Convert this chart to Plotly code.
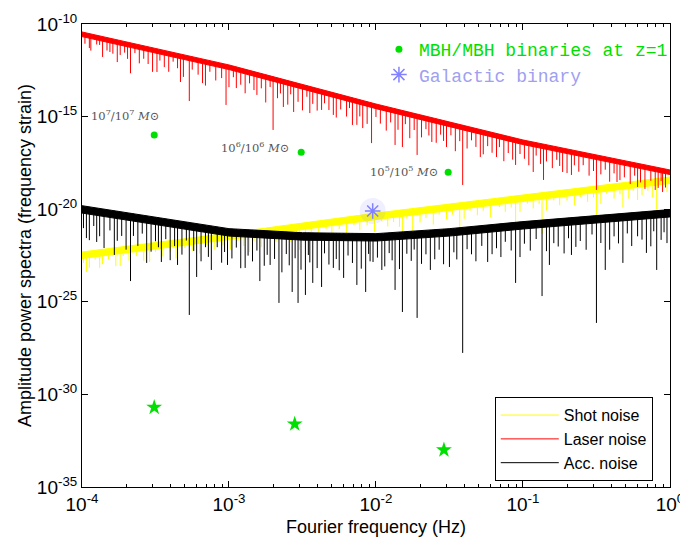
import numpy as np
import plotly.graph_objects as go

# ---------------- data ----------------
# noise band envelopes: log10(frequency / Hz) and log10(amplitude) of band top / bottom
env_logf = [-4, -3, -2, -1, 0]
laser_top_exp = [-10.43, -12.21, -14.32, -16.26, -17.88]
laser_bot_exp = [-10.68, -12.46, -14.57, -16.51, -18.13]
shot_top_exp = [-22.31, -21.29, -20.21, -19.23, -18.26]
shot_bot_exp = [-22.66, -21.64, -20.56, -19.58, -18.61]
acc_env_logf = [-4, -3, -2.5, -2, -1.5, -1, 0]
acc_top_exp = [-19.81, -21.05, -21.27, -21.32, -21.05, -20.67, -20.02]
acc_bot_exp = [-20.21, -21.45, -21.67, -21.72, -21.45, -21.07, -20.42]

# deep downward spikes: log10(frequency) and log10(amplitude reached)
laser_spike_logf = [-3.95, -3.88, -3.81, -3.74, -3.67, -3.55, -3.49, -3.33, -3.27, -3.18,
                    -3.02, -2.95, -2.81, -2.70, -2.63, -2.56, -2.45, -2.37, -2.29, -2.16,
                    -2.09, -2.03, -1.87, -1.82, -1.72, -1.62, -1.52, -1.41, -1.29, -1.18,
                    -1.05, -0.93, -0.86, -0.73, -0.67, -0.50, -0.36, -0.22, -0.10, -0.05]
laser_spike_exp = [-11.30, -11.13, -11.51, -11.67, -12.66, -12.16, -12.59, -13.13, -14.16, -13.19,
                   -14.37, -13.46, -13.83, -15.72, -14.48, -14.75, -14.81, -14.64, -14.91, -15.45,
                   -15.62, -16.43, -16.53, -16.64, -17.07, -16.37, -16.64, -18.69, -17.18, -17.18,
                   -17.61, -17.99, -18.42, -17.99, -18.15, -18.96, -18.53, -18.80, -18.96, -19.07]
shot_spike_logf = [-3.97, -3.88, -3.74, -3.54, -2.86, -2.52, -1.82, -1.75, -1.43, -1.05,
                   -0.87, -0.50, -0.32, -0.22, -0.09]
shot_spike_exp = [-23.39, -23.17, -23.07, -22.85, -22.31, -22.20, -21.50, -21.55, -21.30, -20.85,
                  -21.30, -20.58, -19.90, -19.50, -20.00]
acc_spike_logf = [-3.97, -3.90, -3.78, -3.67, -3.56, -3.46, -3.35, -3.27, -3.22, -3.12,
                  -3.01, -2.89, -2.79, -2.72, -2.66, -2.57, -2.53, -2.48, -2.43, -2.37,
                  -2.29, -2.22, -2.13, -2.07, -2.02, -1.96, -1.87, -1.82, -1.72, -1.63,
                  -1.50, -1.41, -1.24, -1.05, -0.87, -0.82, -0.67, -0.50, -0.44, -0.32,
                  -0.16, -0.09, -0.02]
acc_spike_exp = [-21.56, -21.77, -22.47, -23.88, -22.90, -22.85, -23.01, -25.71, -23.66, -23.28,
                 -23.01, -23.17, -23.88, -23.01, -25.06, -24.47, -25.06, -24.63, -23.98, -24.20,
                 -23.17, -23.71, -24.09, -24.47, -22.85, -23.28, -24.36, -25.55, -25.87, -23.28,
                 -23.12, -27.76, -22.85, -23.98, -24.69, -23.01, -22.47, -26.14, -23.28, -22.90,
                 -22.36, -23.28, -21.83]

# shallow dips: (log10 frequency, dip depth in decades below the band top)
laser_dips = [(-3.98, 0.6), (-3.94, 0.9), (-3.90, 0.5), (-3.86, 1.1), (-3.83, 0.7), (-3.79, 0.8),
              (-3.76, 1.2), (-3.71, 0.6), (-3.69, 0.9), (-3.64, 0.5), (-3.61, 1.0), (-3.58, 0.7),
              (-3.52, 1.3), (-3.47, 0.6), (-3.44, 0.9), (-3.41, 1.1), (-3.38, 0.5), (-3.35, 0.8),
              (-3.31, 1.2), (-3.25, 0.7), (-3.21, 0.9), (-3.16, 1.4), (-3.13, 0.6), (-3.09, 1.0),
              (-3.05, 0.8), (-3.00, 1.2), (-2.97, 0.6), (-2.92, 0.9), (-2.89, 1.3), (-2.86, 0.7),
              (-2.83, 1.0), (-2.78, 0.8), (-2.75, 1.5), (-2.72, 0.6), (-2.67, 1.1), (-2.65, 0.8),
              (-2.60, 1.3), (-2.58, 0.7), (-2.53, 1.0), (-2.50, 1.4), (-2.47, 0.6), (-2.43, 0.9),
              (-2.40, 1.2), (-2.35, 0.7), (-2.32, 1.0), (-2.27, 1.3), (-2.24, 0.8), (-2.20, 1.1),
              (-2.18, 0.6), (-2.13, 1.4), (-2.11, 0.9), (-2.06, 1.2), (-2.00, 0.7), (-1.97, 1.0),
              (-1.93, 1.3), (-1.90, 0.8), (-1.85, 1.1), (-1.80, 0.7), (-1.77, 1.4), (-1.74, 0.9),
              (-1.69, 1.2), (-1.66, 0.7), (-1.64, 1.0), (-1.59, 1.3), (-1.56, 0.8), (-1.54, 1.1),
              (-1.49, 0.7), (-1.46, 1.5), (-1.43, 0.9), (-1.38, 1.2), (-1.35, 0.7), (-1.32, 1.0),
              (-1.27, 1.3), (-1.24, 0.8), (-1.21, 1.1), (-1.16, 0.7), (-1.13, 1.4), (-1.10, 0.9),
              (-1.07, 1.2), (-1.02, 0.8), (-0.99, 1.0), (-0.96, 1.3), (-0.91, 0.7), (-0.88, 1.1),
              (-0.84, 0.9), (-0.80, 1.2), (-0.77, 0.7), (-0.75, 1.0), (-0.70, 1.3), (-0.65, 0.8),
              (-0.62, 1.1), (-0.59, 0.7), (-0.55, 1.2), (-0.52, 0.9), (-0.47, 1.0), (-0.44, 0.7),
              (-0.41, 1.3), (-0.38, 0.8), (-0.34, 1.1), (-0.31, 0.9), (-0.27, 1.2), (-0.24, 0.7),
              (-0.20, 1.0), (-0.17, 1.3), (-0.13, 0.8), (-0.08, 1.1), (-0.06, 0.7), (-0.03, 1.0)]
shot_dips = [(-3.99, 0.6), (-3.95, 0.9), (-3.91, 0.5), (-3.86, 0.8), (-3.82, 0.6), (-3.77, 1.0),
             (-3.72, 0.5), (-3.68, 0.8), (-3.63, 0.6), (-3.58, 0.9), (-3.50, 0.5), (-3.45, 0.8),
             (-3.40, 0.6), (-3.36, 1.0), (-3.30, 0.5), (-3.25, 0.7), (-3.20, 0.9), (-3.15, 0.5),
             (-3.10, 0.8), (-3.04, 0.6), (-2.99, 0.9), (-2.94, 0.5), (-2.90, 0.8), (-2.83, 0.6),
             (-2.78, 1.0), (-2.73, 0.5), (-2.68, 0.8), (-2.63, 0.6), (-2.58, 0.9), (-2.54, 0.5),
             (-2.48, 0.8), (-2.44, 0.6), (-2.39, 1.0), (-2.34, 0.5), (-2.30, 0.8), (-2.25, 0.6),
             (-2.20, 0.9), (-2.15, 0.5), (-2.11, 0.8), (-2.06, 0.6), (-2.01, 1.0), (-1.96, 0.5),
             (-1.92, 0.8), (-1.88, 0.6), (-1.84, 0.9), (-1.79, 0.5), (-1.70, 0.8), (-1.66, 0.6),
             (-1.61, 1.0), (-1.57, 0.5), (-1.52, 0.8), (-1.48, 0.6), (-1.40, 0.9), (-1.36, 0.5),
             (-1.31, 0.8), (-1.27, 0.6), (-1.22, 1.0), (-1.16, 0.5), (-1.12, 0.8), (-1.08, 0.6),
             (-1.02, 0.9), (-0.97, 0.5), (-0.93, 0.8), (-0.89, 0.6), (-0.84, 1.0), (-0.79, 0.5),
             (-0.75, 0.8), (-0.70, 0.6), (-0.65, 0.9), (-0.61, 0.5), (-0.56, 0.8), (-0.52, 0.6),
             (-0.47, 1.0), (-0.43, 0.5), (-0.38, 0.8), (-0.34, 0.6), (-0.28, 0.9), (-0.25, 0.5),
             (-0.19, 0.8), (-0.15, 0.6), (-0.12, 1.0), (-0.05, 0.6), (-0.02, 0.8)]
acc_dips = [(-3.99, 1.2), (-3.95, 1.8), (-3.92, 1.0), (-3.88, 1.5), (-3.85, 2.1), (-3.81, 1.1),
            (-3.76, 1.6), (-3.73, 1.3), (-3.70, 2.0), (-3.65, 1.2), (-3.62, 1.7), (-3.59, 1.0),
            (-3.53, 1.9), (-3.50, 1.3), (-3.48, 1.6), (-3.43, 1.1), (-3.40, 2.2), (-3.37, 1.4),
            (-3.32, 1.8), (-3.29, 1.0), (-3.24, 1.5), (-3.19, 2.0), (-3.16, 1.2), (-3.14, 1.7),
            (-3.08, 1.1), (-3.05, 1.9), (-3.03, 1.3), (-2.98, 1.6), (-2.95, 1.0), (-2.92, 2.1),
            (-2.87, 1.4), (-2.84, 1.7), (-2.81, 1.1), (-2.76, 1.9), (-2.74, 1.3), (-2.69, 1.5),
            (-2.64, 2.2), (-2.61, 1.2), (-2.59, 1.8), (-2.55, 1.4), (-2.51, 2.0), (-2.46, 1.2),
            (-2.45, 1.6), (-2.40, 1.9), (-2.35, 1.1), (-2.32, 1.7), (-2.27, 1.4), (-2.25, 2.0),
            (-2.19, 1.2), (-2.16, 1.6), (-2.10, 1.9), (-2.05, 1.1), (-2.04, 1.5), (-1.99, 1.3),
            (-1.94, 1.8), (-1.91, 1.1), (-1.89, 1.5), (-1.84, 2.0), (-1.79, 1.2), (-1.76, 1.6),
            (-1.74, 1.0), (-1.69, 1.8), (-1.66, 1.3), (-1.60, 1.6), (-1.57, 1.1), (-1.54, 1.9),
            (-1.47, 1.3), (-1.45, 1.7), (-1.38, 1.2), (-1.35, 1.5), (-1.32, 1.9), (-1.28, 1.1),
            (-1.21, 1.6), (-1.18, 1.3), (-1.15, 1.8), (-1.12, 1.0), (-1.08, 1.5), (-1.02, 1.9),
            (-0.99, 1.2), (-0.95, 1.6), (-0.91, 1.0), (-0.84, 1.7), (-0.79, 1.3), (-0.76, 1.5),
            (-0.72, 1.9), (-0.69, 1.1), (-0.64, 1.6), (-0.61, 1.3), (-0.57, 1.8), (-0.53, 1.0),
            (-0.47, 1.5), (-0.41, 1.9), (-0.38, 1.2), (-0.35, 1.6), (-0.29, 1.1), (-0.26, 1.8),
            (-0.22, 1.3), (-0.19, 1.5), (-0.13, 1.9), (-0.11, 1.1), (-0.06, 1.6), (-0.04, 1.2)]

# sources
mbh_freq = [3.1e-4, 3.1e-3, 3.1e-2]
mbh_amp = [1.0e-16, 1.2e-17, 1.0e-18]
mbh_labels = ["10<sup>7</sup>/10<sup>7</sup> <i>M</i>⊙",
              "10<sup>6</sup>/10<sup>6</sup> <i>M</i>⊙",
              "10<sup>5</sup>/10<sup>5</sup> <i>M</i>⊙"]
star_freq = [3.1e-4, 2.8e-3, 2.9e-2]
star_amp = [2.0e-31, 2.5e-32, 1.0e-33]
gal_freq = [9.5e-3]
gal_amp = [8.0e-21]

xtick_vals = [1e-4, 1e-3, 1e-2, 1e-1, 1e0]
xtick_text = ["10<sup>-4</sup>", "10<sup>-3</sup>", "10<sup>-2</sup>", "10<sup>-1</sup>", "10<sup>0</sup>"]
ytick_vals = [1e-10, 1e-15, 1e-20, 1e-25, 1e-30, 1e-35]
ytick_text = ["10<sup>-10</sup>", "10<sup>-15</sup>", "10<sup>-20</sup>",
              "10<sup>-25</sup>", "10<sup>-30</sup>", "10<sup>-35</sup>"]

# label placement (style): pixel offsets of each mass label from its dot
label_dx = [7, -10, -8]
label_dy = [10, -5, -9]

# ---------------- figure ----------------
fig = go.Figure()


def add_noise(name, color, ef, top, bot, sf, sd, dips):
    ef = np.array(ef, float)
    top = np.array(top, float)
    bot = np.array(bot, float)
    bx = np.concatenate([ef, ef[::-1]])
    by = np.concatenate([top, bot[::-1]])
    fig.add_trace(go.Scatter(x=10 ** bx, y=10 ** by, fill="toself", fillcolor=color,
                             mode="lines", line=dict(color=color, width=1),
                             showlegend=False, hoverinfo="skip", legendgroup=name))
    pts = list(zip(sf, sd))
    for lf, d in dips:
        pts.append((lf, float(np.interp(lf, ef, top)) - d))
    xs, ys = [], []
    for lf, low in pts:
        t = float(np.interp(lf, ef, top))
        xs += [10 ** lf, 10 ** lf, None]
        ys += [10 ** t, 10 ** low, None]
    fig.add_trace(go.Scatter(x=xs, y=ys, mode="lines", line=dict(color=color, width=1),
                             name=name, legendgroup=name, legend="legend", hoverinfo="skip"))


add_noise("Shot noise", "#ffff00", env_logf, shot_top_exp, shot_bot_exp,
          shot_spike_logf, shot_spike_exp, shot_dips)
add_noise("Laser noise", "#ff0000", env_logf, laser_top_exp, laser_bot_exp,
          laser_spike_logf, laser_spike_exp, laser_dips)
add_noise("Acc. noise", "#000000", acc_env_logf, acc_top_exp, acc_bot_exp,
          acc_spike_logf, acc_spike_exp, acc_dips)

# MBH binaries (dots) with labels
fig.add_trace(go.Scatter(x=mbh_freq, y=mbh_amp, mode="markers",
                         marker=dict(color="#00e000", size=7),
                         name="MBH/MBH binaries at z=1", legend="legend2"))
fig.add_trace(go.Scatter(x=star_freq, y=star_amp, mode="markers",
                         marker=dict(color="#00e000", size=12, symbol="star"),
                         showlegend=False))
# galactic binary glow + marker
fig.add_trace(go.Scatter(x=gal_freq, y=gal_amp, mode="markers",
                         marker=dict(color="rgba(150,150,255,0.15)", size=26),
                         showlegend=False, hoverinfo="skip"))
fig.add_trace(go.Scatter(x=gal_freq, y=gal_amp, mode="markers",
                         marker=dict(symbol="asterisk-open", size=13, color="rgb(130,130,255)",
                                     line=dict(color="rgb(130,130,255)", width=1.5)),
                         name="Galactic binary", legend="legend3"))

for f, a, t, dx, dy in zip(mbh_freq, mbh_amp, mbh_labels, label_dx, label_dy):
    fig.add_annotation(x=np.log10(f), y=np.log10(a), text=t, showarrow=False,
                       xanchor="right", yanchor="bottom", xshift=dx, yshift=dy,
                       font=dict(family="DejaVu Serif", size=11.5, color="#555555"))

axis_common = dict(type="log", showline=True, linecolor="black", linewidth=1,
                   mirror="ticks", ticks="inside", tickcolor="black", ticklen=6,
                   showgrid=False, zeroline=False, ticklabeloverflow="allow",
                   automargin=False,
                   tickfont=dict(family="Liberation Sans", size=19, color="black"))
fig.update_xaxes(range=[-4, 0.0005], tickvals=xtick_vals, ticktext=xtick_text,
                 minor=dict(ticks="inside", ticklen=3, tickcolor="black",
                            tickvals=[m * 10.0 ** e for e in range(-4, 0) for m in range(2, 10)],
                            showgrid=False),
                 title=dict(text="Fourier frequency (Hz)", standoff=6,
                            font=dict(family="Liberation Sans", size=18, color="black")),
                 **axis_common)
fig.update_yaxes(range=[-35, -10], tickvals=ytick_vals, ticktext=ytick_text,
                 title=dict(text="Amplitude power spectra (frequency strain)", standoff=0,
                            font=dict(family="Liberation Sans", size=18, color="black")),
                 **axis_common)

fig.update_layout(
    width=680, height=542,
    margin=dict(l=82, r=10, t=24, b=55, autoexpand=False),
    paper_bgcolor="white", plot_bgcolor="white",
    legend=dict(x=0.702, y=0.194, xanchor="left", yanchor="top",
                bordercolor="black", borderwidth=1, bgcolor="white", itemwidth=58,
                font=dict(family="Liberation Sans", size=16, color="black"),
                tracegroupgap=0),
    legend2=dict(x=0.505, y=0.985, xanchor="left", yanchor="top", bgcolor="rgba(0,0,0,0)",
                 font=dict(family="Liberation Mono", size=18, color="#00e000")),
    legend3=dict(x=0.505, y=0.93, xanchor="left", yanchor="top", bgcolor="rgba(0,0,0,0)",
                 font=dict(family="Liberation Mono", size=18, color="#a0a0f0")),
    showlegend=True,
)

fig.write_html("out.html")
